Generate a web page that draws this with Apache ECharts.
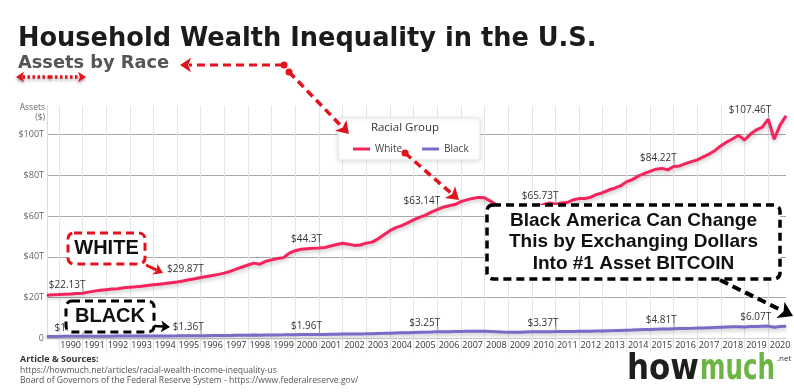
<!DOCTYPE html>
<html><head><meta charset="utf-8">
<script src="https://cdn.jsdelivr.net/npm/echarts@6/dist/echarts.min.js"></script>
<style>html,body{margin:0;padding:0;background:#fff}#c{width:794px;height:392px}</style>
</head><body><div id="c"></div>
<script>
// ---- data ----
const firstYear = 1989;           // first quarter is 1989 Q3
const firstQuarter = 3;
const seriesNames = ['White', 'Black'];
const white = [
21.2, 21.4, 21.5, 21.7, 21.8, 22.0, 22.13, 22.7, 23.2, 23.6,
23.9, 24.2, 24.4, 24.8, 25.1, 25.3, 25.6, 26.0, 26.3, 26.6,
26.9, 27.3, 27.7, 28.2, 28.8, 29.3, 29.87, 30.4, 30.9, 31.4,
32.0, 32.9, 34.0, 35.0, 36.0, 36.9, 36.4, 37.8, 38.5, 39.2,
39.6, 41.8, 43.0, 43.7, 44.0, 44.2, 44.3, 44.6, 45.3, 46.0,
46.6, 46.2, 45.6, 45.8, 46.7, 47.2, 48.8, 50.8, 52.8, 54.3,
55.3, 56.6, 58.1, 59.3, 60.4, 61.9, 63.14, 64.3, 65.0, 65.6,
67.0, 67.9, 68.6, 69.1, 68.9, 67.3, 65.5, 62.5, 60.0, 58.5,
59.5, 61.5, 63.0, 64.5, 65.5, 66.4, 65.73, 66.4, 66.6, 67.9,
68.5, 68.6, 69.2, 70.6, 71.4, 72.7, 73.6, 74.7, 76.7, 77.8,
79.5, 80.8, 81.8, 82.9, 83.3, 82.6, 84.22, 84.5, 85.6, 86.6,
87.5, 88.9, 90.3, 92.1, 94.4, 96.2, 97.8, 99.5, 97.2, 100.1,
102.2, 103.5, 107.46, 97.6, 104.5, 109.0
];
const black = [
1.0, 1.02, 1.03, 1.05, 1.06, 1.07, 1.08, 1.12, 1.13, 1.14,
1.15, 1.16, 1.17, 1.18, 1.19, 1.2, 1.21, 1.22, 1.23, 1.25,
1.26, 1.28, 1.29, 1.31, 1.33, 1.34, 1.36, 1.39, 1.42, 1.44,
1.47, 1.51, 1.55, 1.58, 1.62, 1.66, 1.64, 1.69, 1.72, 1.76,
1.78, 1.83, 1.87, 1.9, 1.92, 1.94, 1.96, 2.0, 2.05, 2.1,
2.15, 2.18, 2.2, 2.25, 2.3, 2.36, 2.45, 2.53, 2.62, 2.7,
2.78, 2.86, 2.94, 3.02, 3.1, 3.17, 3.25, 3.3, 3.35, 3.4,
3.45, 3.5, 3.52, 3.55, 3.53, 3.45, 3.35, 3.22, 3.1, 3.05,
3.1, 3.18, 3.25, 3.3, 3.33, 3.36, 3.37, 3.4, 3.42, 3.47,
3.52, 3.55, 3.6, 3.66, 3.72, 3.8, 3.87, 3.95, 4.05, 4.14,
4.25, 4.35, 4.45, 4.55, 4.62, 4.65, 4.81, 4.88, 4.95, 5.02,
5.1, 5.2, 5.3, 5.4, 5.5, 5.6, 5.7, 5.8, 5.65, 5.85,
5.93, 6.0, 6.07, 5.55, 5.85, 6.05
];
const labelIndex = [6, 26, 46, 66, 86, 106, 122];   // points carrying a value label
const yTicks = [0, 20, 40, 60, 80, 100];

// quarter categories built from the start quarter
const quarters = [];
for (let i = 0; i < white.length; i++) {
  const q = firstQuarter - 1 + i;
  quarters.push((firstYear + Math.floor(q / 4)) + ' Q' + (q % 4 + 1));
}

// ---- styles ----
const PINK = '#f4245c', PURPLE = '#7d69c6', RED = '#e3121c';
const FONT = '"Open Sans", sans-serif';

function arrow(x1, y1, x2, y2, color, w, dash, head, extra) {
  const dx = x2 - x1, dy = y2 - y1, len = Math.hypot(dx, dy);
  const ux = dx / len, uy = dy / len, nx = -uy, ny = ux;
  const bx = x2 - ux * head, by = y2 - uy * head;
  const sh = extra || {};
  return [
    { type: 'polyline', z: 70, shape: { points: [[x1, y1], [bx + ux * 2, by + uy * 2]] },
      style: Object.assign({ stroke: color, lineWidth: w, lineDash: dash, fill: null }, sh) },
    { type: 'polygon', z: 70, shape: { points: [[x2, y2], [bx + nx * head * 0.65, by + ny * head * 0.65], [bx + ux * head * 0.25, by + uy * head * 0.25], [bx - nx * head * 0.65, by - ny * head * 0.65]] },
      style: Object.assign({ fill: color }, sh) }
  ];
}
function dot(x, y, r, color) {
  return { type: 'circle', z: 70, shape: { cx: x, cy: y, r: r }, style: { fill: color } };
}
function dashBox(x, y, w, h, color, lw) {
  return { type: 'rect', z: 60, shape: { x: x, y: y, width: w, height: h, r: 6 },
    style: { fill: '#fff', stroke: color, lineWidth: lw, lineDash: [8, 5] } };
}
function txt(x, y, text, font, fill, align, extra) {
  return { type: 'text', z: 80, x: x, y: y,
    style: Object.assign({ text: text, font: font, fill: fill, textAlign: align || 'left', textVerticalAlign: 'middle' }, extra || {}) };
}

const lineShadow = { shadowColor: 'rgba(0,0,0,0.25)', shadowBlur: 4, shadowOffsetY: 2 };

function makeData(vals) {
  return vals.map((v, i) => ({ value: v, label: { show: labelIndex.indexOf(i) >= 0 } }));
}
const seriesLabel = {
  show: false, position: 'top', distance: 3, align: 'right', offset: [3, 0],
  fontSize: 10, color: '#333', fontFamily: FONT,
  formatter: p => '$' + p.value + 'T'
};

const graphics = [].concat(
  [
    { type: 'text', z: 80, x: 18, y: 39, scaleX: 0.95,
      style: { text: 'Household Wealth Inequality in the U.S.', font: 'bold 27px "DejaVu Sans"', fill: '#1b1b1b', textVerticalAlign: 'middle' } },
    txt(18, 63.5, 'Assets by Race', 'bold 17.8px "DejaVu Sans"', '#555'),
    txt(45, 113, 'Assets\n($)', '8.5px ' + FONT, '#666', 'right', { lineHeight: 10 }),
    // legend frame + title
    { type: 'rect', z: 50, shape: { x: 338, y: 118, width: 142, height: 42, r: 2 },
      style: { fill: '#fff', stroke: '#e6e6e6', lineWidth: 1, shadowColor: 'rgba(0,0,0,0.12)', shadowBlur: 5, shadowOffsetY: 1 } },
    txt(405, 128, 'Racial Group', '11.5px ' + FONT, '#333', 'center'),
    // annotation boxes
    dashBox(68, 233, 77, 31, RED, 3),
    txt(106.5, 248.5, 'WHITE', 'bold 20px "Liberation Sans"', '#111', 'center'),
    dashBox(66, 301, 88, 31, '#000', 3),
    txt(110, 316, 'BLACK', 'bold 20px "Liberation Sans"', '#111', 'center'),
    dashBox(487, 205, 293, 74, '#000', 3.5),
    txt(633.5, 242, 'Black America Can Change\nThis by Exchanging Dollars\nInto #1 Asset BITCOIN', 'bold 19px "Liberation Sans"', '#111', 'center', { lineHeight: 21.7 }),
    // footer
    txt(20, 359, 'Article & Sources:', 'bold 9px ' + FONT, '#333'),
    txt(20, 370.5, 'https://howmuch.net/articles/racial-wealth-income-inequality-us', '8.6px ' + FONT, '#555'),
    txt(20, 380.5, 'Board of Governors of the Federal Reserve System - https://www.federalreserve.gov/', '8.6px ' + FONT, '#555'),
    // logo
    { type: 'text', z: 80, x: 627, y: 370, scaleX: 0.86,
      style: { text: 'how', font: 'bold 36px "DejaVu Sans"', fill: '#1e1e1e', textVerticalAlign: 'middle' } },
    { type: 'text', z: 80, x: 700, y: 370, scaleX: 0.68,
      style: { text: 'much', font: 'bold 36px "DejaVu Sans"', fill: '#6cb545', textVerticalAlign: 'middle' } },
    txt(777, 359, '.net', '8px ' + FONT, '#333'),
    dot(284, 65, 3.5, RED),
    dot(289, 72, 3.5, RED),
    dot(405, 153, 3.5, RED)
  ],
  // red dotted double arrow under subtitle
  arrow(50, 77, 16, 77, RED, 3.5, [2.5, 2.5], 8, { shadowColor: 'rgba(0,0,0,0.35)', shadowBlur: 3, shadowOffsetY: 2 }),
  arrow(50, 77, 86, 77, RED, 3.5, [2.5, 2.5], 8, { shadowColor: 'rgba(0,0,0,0.35)', shadowBlur: 3, shadowOffsetY: 2 }),
  arrow(283, 65, 180, 65, RED, 3, [8, 5], 11),
  arrow(289, 72, 349, 134, RED, 3.5, [8, 5], 12),
  arrow(405, 153, 459, 200, RED, 3.5, [8, 5], 12),
  arrow(146, 265, 163, 273, RED, 3, null, 9),
  arrow(154, 326, 170, 327, '#000', 2.5, null, 9),
  arrow(720, 280, 793, 316, '#000', 4, [9, 5], 14)
);

const chart = echarts.init(document.getElementById('c'), null, { renderer: 'canvas' });
chart.setOption({
  animation: false,
  backgroundColor: '#fff',
  grid: { left: 47, right: 8, top: 105.7, bottom: 53.5, containLabel: false },
  legend: {
    data: seriesNames, left: 348, top: 139, z: 100, icon: 'rect', itemWidth: 17, itemHeight: 3, itemGap: 20,
    textStyle: { fontSize: 10, color: '#444', fontFamily: FONT }
  },
  xAxis: {
    type: 'category', data: quarters, boundaryGap: false,
    axisLine: { show: true, lineStyle: { color: '#cfcfcf' } },
    axisTick: { show: true, interval: i => i % 4 === 2, length: 14, lineStyle: { color: '#e6e6e6' } },
    axisLabel: { interval: i => i % 4 === 0 && i > 0, formatter: v => v.slice(0, 4), fontSize: 9, color: '#333', fontFamily: FONT, margin: 2.5 },
    splitLine: { show: true, interval: i => i % 4 === 2, lineStyle: { color: '#e6e6e6' } }
  },
  yAxis: {
    type: 'value', min: 0, max: 114, interval: 20,
    axisLine: { show: true, lineStyle: { color: '#dcdcdc' } },
    axisTick: { show: false },
    axisLabel: { showMaxLabel: false, formatter: v => yTicks.indexOf(v) < 0 ? '' : (v === 0 ? '0' : '$' + v + 'T'), fontSize: 9, color: '#666', fontFamily: FONT, margin: 3 },
    splitLine: { show: true, showMaxLine: false, lineStyle: { color: '#a8a8a8' } }
  },
  series: [
    { name: seriesNames[0], type: 'line', data: makeData(white), color: PINK,
      symbol: 'circle', symbolSize: 1, showSymbol: true, showAllSymbol: true,
      lineStyle: Object.assign({ width: 3, color: PINK }, lineShadow), itemStyle: { color: PINK },
      label: seriesLabel, z: 3 },
    { name: seriesNames[1], type: 'line', data: makeData(black), color: PURPLE,
      symbol: 'circle', symbolSize: 1, showSymbol: true, showAllSymbol: true,
      lineStyle: Object.assign({ width: 3, color: PURPLE }, lineShadow), itemStyle: { color: PURPLE },
      label: seriesLabel, z: 3 }
  ],
  graphic: { elements: graphics }
});

// small leader ticks under each value label, placed through the chart's own scales
const ticks = [];
[white, black].forEach(vals => {
  labelIndex.forEach(i => {
    const p = chart.convertToPixel({ seriesIndex: 0 }, [i, vals[i]]);
    ticks.push({ type: 'line', z: 4, shape: { x1: p[0] + 0.5, y1: p[1] - 6, x2: p[0] + 0.5, y2: p[1] - 1 },
      style: { stroke: '#999', lineWidth: 1 } });
  });
});
chart.setOption({ graphic: { elements: graphics.concat(ticks) } });
</script>
</body></html>
